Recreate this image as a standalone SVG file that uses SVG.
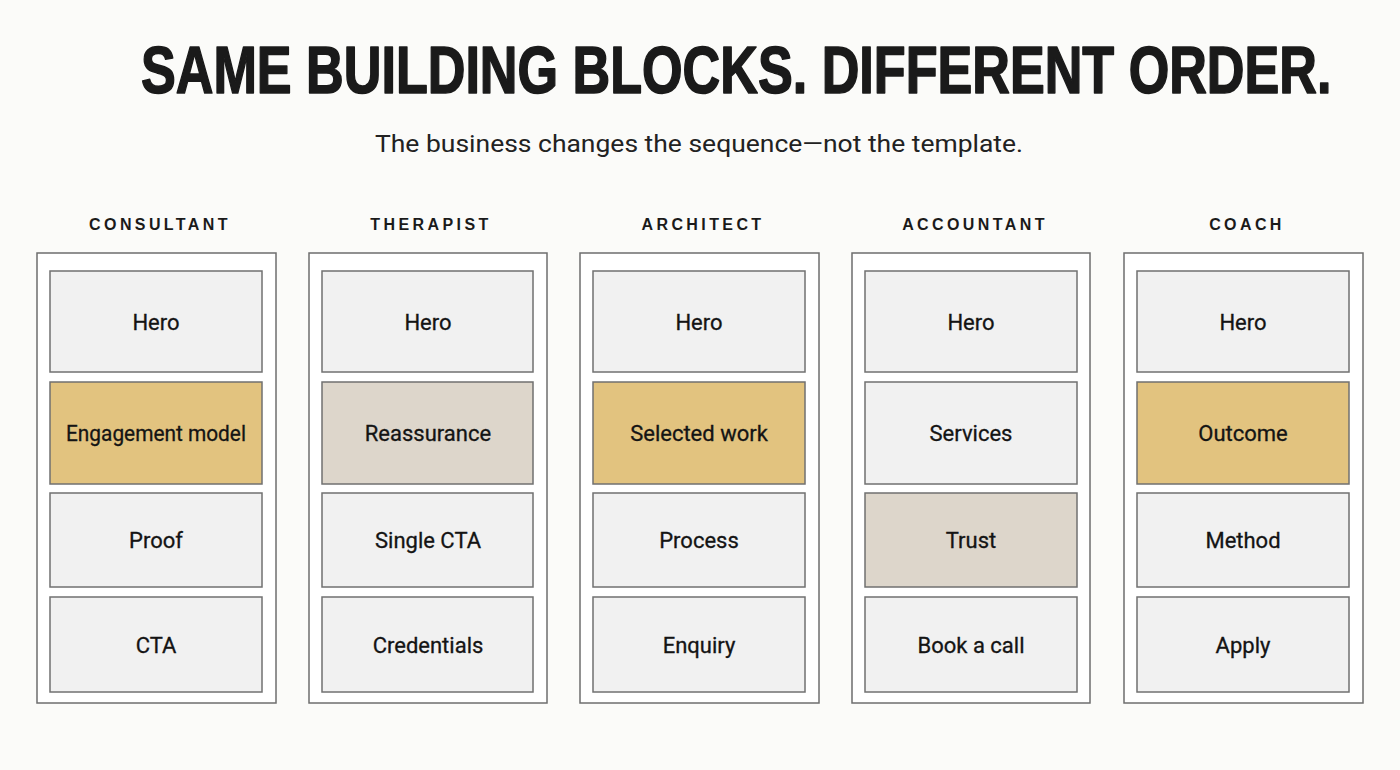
<svg xmlns="http://www.w3.org/2000/svg" width="1400" height="770" viewBox="0 0 1400 770">
<style>
.bg{fill:#fbfbf9}
.title{font-family:"Liberation Sans",Arial,sans-serif;font-weight:bold;font-size:66px;fill:#1a1a1a;stroke:#1a1a1a;stroke-width:1.6;stroke-linejoin:round}
.sub{font-family:Roboto,"Liberation Sans",sans-serif;font-size:24px;fill:#222}
.lab{font-family:"Liberation Sans",Arial,sans-serif;font-weight:bold;font-size:16px;letter-spacing:3.4px;fill:#1a1a1a}
.col{fill:#ffffff;stroke:#6e6e6e;stroke-width:1.5}
.blk{fill:#f1f1f1;stroke:#707070;stroke-width:1.5}
.gold{fill:#e2c37f;stroke:#707070;stroke-width:1.5}
.beige{fill:#ddd6cb;stroke:#707070;stroke-width:1.5}
.t{font-family:Roboto,"Liberation Sans",sans-serif;font-size:22px;fill:#141414;text-anchor:middle;stroke:#141414;stroke-width:0.3}
</style>
<rect class="bg" x="0" y="0" width="1400" height="770"/>
<text class="title" transform="translate(141,93) scale(0.79,1)" x="0" y="0">SAME BUILDING BLOCKS. DIFFERENT ORDER.</text>
<text class="sub" x="375" y="152" textLength="648" lengthAdjust="spacingAndGlyphs">The business changes the sequence—not the template.</text>

<g id="consultant">
<text class="lab" x="160" y="230" text-anchor="middle">CONSULTANT</text>
<rect class="col" x="37" y="253" width="239" height="450"/>
<rect class="blk" x="50" y="271" width="212" height="101"/><text class="t" x="156" y="330">Hero</text>
<rect class="gold" x="50" y="382" width="212" height="102"/><text class="t" x="156" y="441" textLength="180" lengthAdjust="spacingAndGlyphs">Engagement model</text>
<rect class="blk" x="50" y="493" width="212" height="94"/><text class="t" x="156" y="548">Proof</text>
<rect class="blk" x="50" y="597" width="212" height="95"/><text class="t" x="156" y="653">CTA</text>
</g>

<g id="therapist">
<text class="lab" x="431" y="230" text-anchor="middle">THERAPIST</text>
<rect class="col" x="309" y="253" width="238" height="450"/>
<rect class="blk" x="322" y="271" width="211" height="101"/><text class="t" x="428" y="330">Hero</text>
<rect class="beige" x="322" y="382" width="211" height="102"/><text class="t" x="428" y="441">Reassurance</text>
<rect class="blk" x="322" y="493" width="211" height="94"/><text class="t" x="428" y="548">Single CTA</text>
<rect class="blk" x="322" y="597" width="211" height="95"/><text class="t" x="428" y="653">Credentials</text>
</g>

<g id="architect">
<text class="lab" x="703" y="230" text-anchor="middle">ARCHITECT</text>
<rect class="col" x="580" y="253" width="239" height="450"/>
<rect class="blk" x="593" y="271" width="212" height="101"/><text class="t" x="699" y="330">Hero</text>
<rect class="gold" x="593" y="382" width="212" height="102"/><text class="t" x="699" y="441">Selected work</text>
<rect class="blk" x="593" y="493" width="212" height="94"/><text class="t" x="699" y="548">Process</text>
<rect class="blk" x="593" y="597" width="212" height="95"/><text class="t" x="699" y="653">Enquiry</text>
</g>

<g id="accountant">
<text class="lab" x="975" y="230" text-anchor="middle">ACCOUNTANT</text>
<rect class="col" x="852" y="253" width="238" height="450"/>
<rect class="blk" x="865" y="271" width="212" height="101"/><text class="t" x="971" y="330">Hero</text>
<rect class="blk" x="865" y="382" width="212" height="102"/><text class="t" x="971" y="441">Services</text>
<rect class="beige" x="865" y="493" width="212" height="94"/><text class="t" x="971" y="548">Trust</text>
<rect class="blk" x="865" y="597" width="212" height="95"/><text class="t" x="971" y="653">Book a call</text>
</g>

<g id="coach">
<text class="lab" x="1247" y="230" text-anchor="middle">COACH</text>
<rect class="col" x="1124" y="253" width="239" height="450"/>
<rect class="blk" x="1137" y="271" width="212" height="101"/><text class="t" x="1243" y="330">Hero</text>
<rect class="gold" x="1137" y="382" width="212" height="102"/><text class="t" x="1243" y="441">Outcome</text>
<rect class="blk" x="1137" y="493" width="212" height="94"/><text class="t" x="1243" y="548">Method</text>
<rect class="blk" x="1137" y="597" width="212" height="95"/><text class="t" x="1243" y="653">Apply</text>
</g>

<g id="connectors"/>
</svg>
